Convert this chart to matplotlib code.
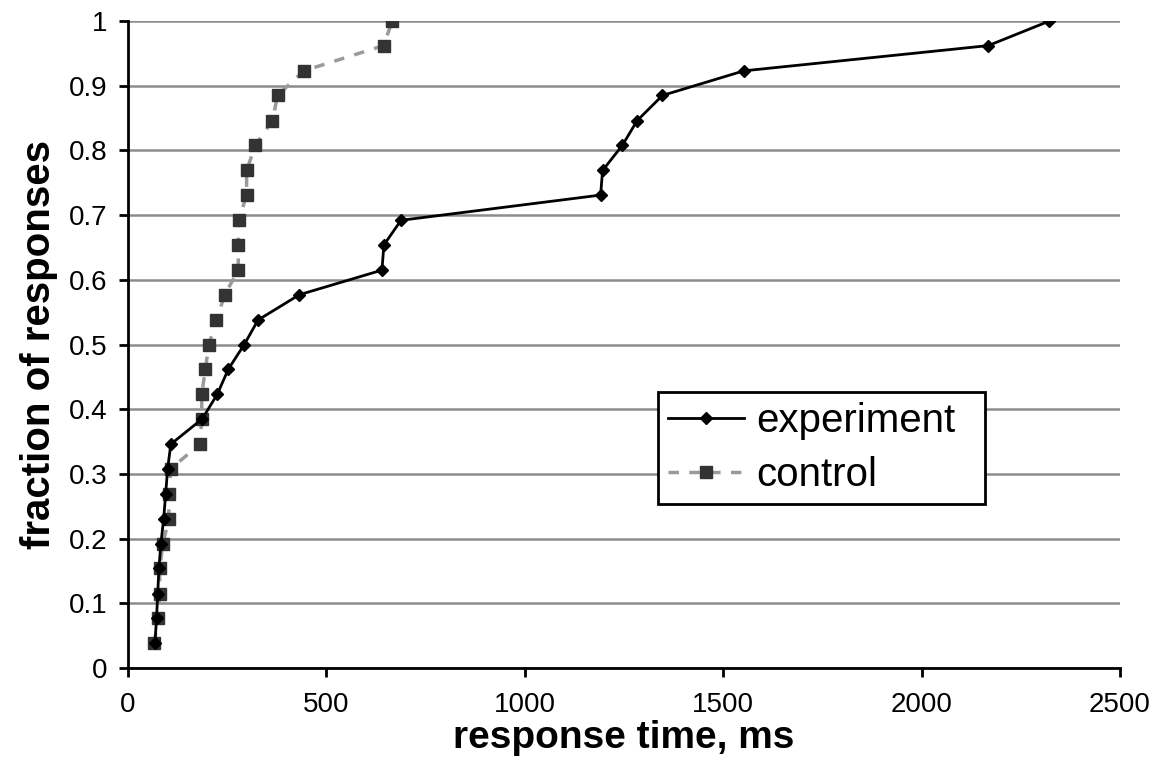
import matplotlib
matplotlib.use("Agg")
import matplotlib.pyplot as plt

plt.rcParams['font.family'] = ['Liberation Sans', 'DejaVu Sans']

frac = [0.038, 0.077, 0.115, 0.154, 0.192, 0.231, 0.269, 0.308, 0.346, 0.385,
        0.423, 0.462, 0.500, 0.538, 0.577, 0.615, 0.654, 0.692, 0.731, 0.769,
        0.808, 0.846, 0.885, 0.923, 0.962, 1.000]
experiment_ms = [68, 72, 75, 78, 83, 90, 95, 100, 108, 187,
                 225, 253, 293, 328, 432, 640, 645, 688, 1191, 1196,
                 1246, 1283, 1347, 1552, 2168, 2322]
control_ms = [66, 76, 80, 80, 88, 103, 103, 108, 181, 186,
              186, 195, 204, 223, 244, 278, 278, 279, 299, 299,
              321, 364, 377, 443, 644, 666]
xticks = [0, 500, 1000, 1500, 2000, 2500]
yticks = [0, 0.1, 0.2, 0.3, 0.4, 0.5, 0.6, 0.7, 0.8, 0.9, 1]
ytick_labels = ['0', '0.1', '0.2', '0.3', '0.4', '0.5', '0.6', '0.7', '0.8', '0.9', '1']

fig = plt.figure(figsize=(11.59, 7.67), dpi=100)
ax = fig.add_axes([0.1104, 0.129, 0.8560, 0.8436])

ax.plot(control_ms, frac, linestyle=(0, (3, 3)), color='#9a9a9a', linewidth=2.5,
        marker='s', markersize=9, markerfacecolor='#333333', markeredgecolor='#333333',
        label='control', zorder=3)
ax.plot(experiment_ms, frac, linestyle='-', color='black', linewidth=2,
        marker='D', markersize=6, markerfacecolor='black', markeredgecolor='black',
        label='experiment', zorder=4)

ax.set_xlim(0, 2500)
ax.set_ylim(0, 1)
ax.set_xticks(xticks)
ax.set_xticklabels([str(t) for t in xticks])
ax.set_yticks(yticks)
ax.set_yticklabels(ytick_labels)
ax.yaxis.grid(True, color='#8c8c8c', linewidth=1.8)
ax.set_axisbelow(True)

for s in ['top', 'right']:
    ax.spines[s].set_visible(False)
for s in ['left', 'bottom']:
    ax.spines[s].set_linewidth(2)
    ax.spines[s].set_color('black')

ax.tick_params(axis='both', direction='out', length=6.5, width=2, labelsize=20, colors='black')
ax.tick_params(axis='x', pad=11)
ax.tick_params(axis='y', pad=8)

ax.set_xlabel('response time, ms', fontsize=28, fontweight='bold', labelpad=1)
ax.set_ylabel('fraction of responses', fontsize=29, fontweight='bold', labelpad=8)

handles, labels = ax.get_legend_handles_labels()
leg = ax.legend(handles[::-1], labels[::-1], loc='upper left',
                bbox_to_anchor=(0.534, 0.427, 0.33, 0.0), mode='expand',
                fontsize=29, frameon=True, fancybox=False, borderaxespad=0,
                handlelength=1.9, handletextpad=0.3, labelspacing=0.4,
                borderpad=0.25)
leg.get_frame().set_edgecolor('black')
leg.get_frame().set_linewidth(2)
leg.get_frame().set_alpha(1)

fig.savefig('out.png', dpi=100)
